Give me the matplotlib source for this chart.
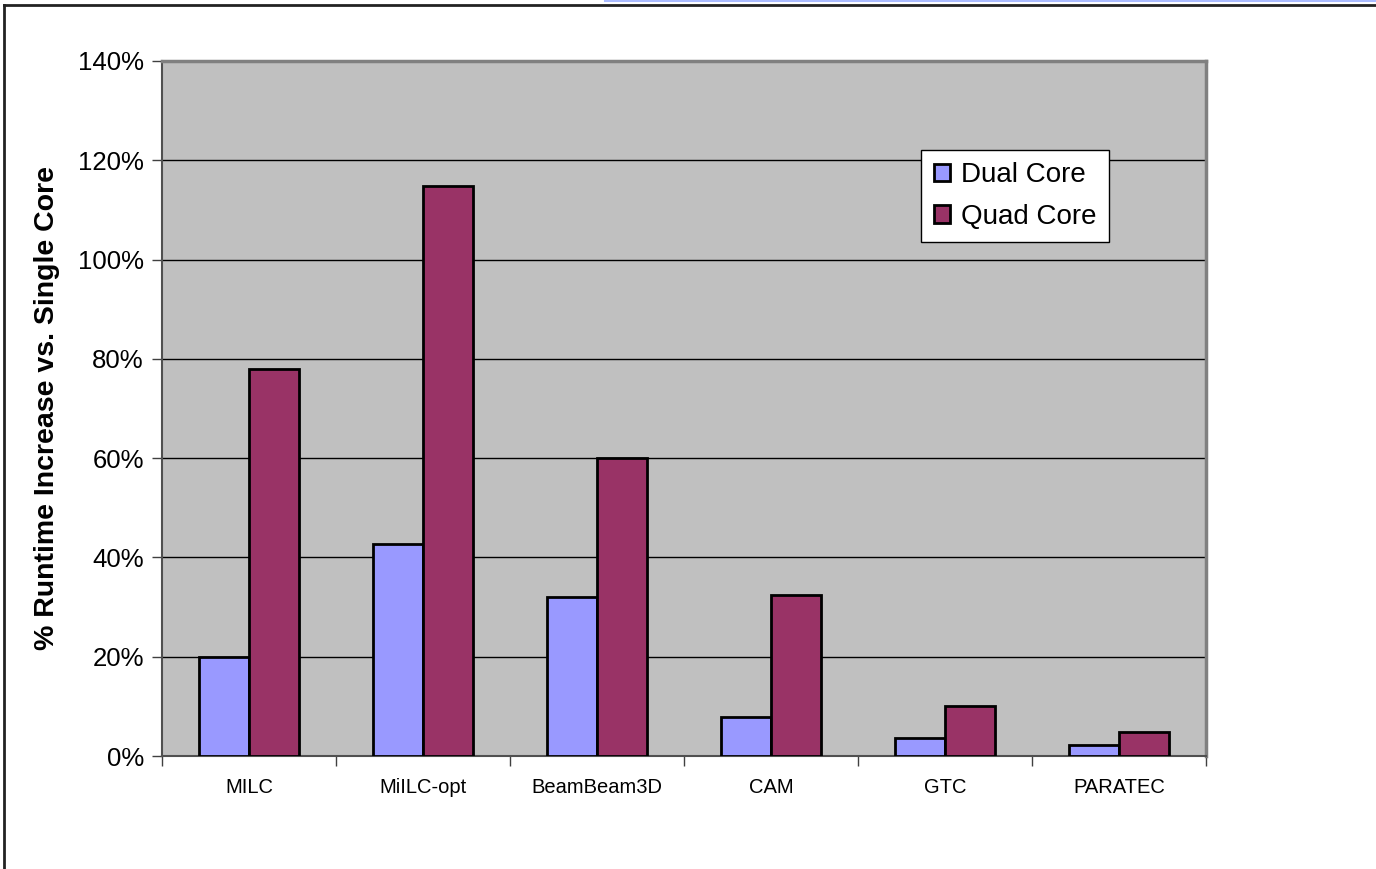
import matplotlib
matplotlib.use('Agg')
import matplotlib.pyplot as plt
import numpy as np
from matplotlib.lines import Line2D
from matplotlib.ticker import FuncFormatter, MultipleLocator

# ====== data ======
apps = ['MILC', 'MiILC-opt', 'BeamBeam3D', 'CAM', 'GTC', 'PARATEC']
dual_core = [20, 42.7, 32, 7.9, 3.6, 2.2]
quad_core = [78, 114.8, 60, 32.4, 10.1, 4.8]

plt.rcParams['font.family'] = ['Liberation Sans', 'DejaVu Sans']

fig = plt.figure(figsize=(13.76, 8.69), dpi=100)
ax = fig.add_axes([162/1376, 113/869, 1044/1376, 695/869])
ax.set_facecolor('#C0C0C0')

x = np.arange(len(apps))
w = 0.285
ax.bar(x - w/2, dual_core, w, color='#9999FF', edgecolor='black', linewidth=2, label='Dual Core', zorder=3)
ax.bar(x + w/2, quad_core, w, color='#993366', edgecolor='black', linewidth=2, label='Quad Core', zorder=3)

ax.set_xlim(-0.5, len(apps) - 0.5)
ax.set_ylim(0, 140)
ax.yaxis.set_major_locator(MultipleLocator(20))
ax.yaxis.set_major_formatter(FuncFormatter(lambda v, p: f'{v:.0f}%'))
ax.grid(axis='y', color='black', linewidth=1, zorder=1)

# category ticks at boundaries, labels centered
ax.set_xticks(np.arange(len(apps) + 1) - 0.5)
ax.set_xticklabels([])
ax.set_xticks(x, minor=True)
ax.set_xticklabels(apps, minor=True, fontsize=14.5)
ax.tick_params(axis='x', which='minor', length=0, pad=16)
ax.tick_params(axis='x', which='major', length=7, width=1, color='#404040', direction='out')
ax.tick_params(axis='y', length=7, width=1, color='#404040', labelsize=18.5, pad=6)

for s in ['top', 'right']:
    ax.spines[s].set_color('#808080')
    ax.spines[s].set_linewidth(2.5)
for s in ['left', 'bottom']:
    ax.spines[s].set_color('#505050')
    ax.spines[s].set_linewidth(1.5)

ax.set_ylabel('% Runtime Increase vs. Single Core', fontsize=20.5, fontweight='bold')
ax.yaxis.set_label_coords(-(162 - 60) / 1044, 0.5)

leg = ax.legend(loc='upper left', bbox_to_anchor=((921-162)/1044, (756-150)/695),
                fontsize=20, frameon=True, fancybox=False, framealpha=1,
                edgecolor='black', handlelength=0.58, handleheight=0.58,
                handletextpad=0.42, borderpad=0.45, labelspacing=0.55, borderaxespad=0)
leg.get_frame().set_linewidth(1)

# outer chart border (left and top only visible)
fig.add_artist(Line2D([3.5/1376, 3.5/1376], [0, 1 - 5/869], color='#222222', linewidth=2, transform=fig.transFigure))
fig.add_artist(Line2D([3.5/1376, 1], [1 - 5/869, 1 - 5/869], color='#222222', linewidth=2, transform=fig.transFigure))
fig.add_artist(Line2D([0.44, 1], [1 - 0.8/869, 1 - 0.8/869], color='#AABBFF', linewidth=1.5, transform=fig.transFigure))

fig.savefig('out.png', dpi=100)
